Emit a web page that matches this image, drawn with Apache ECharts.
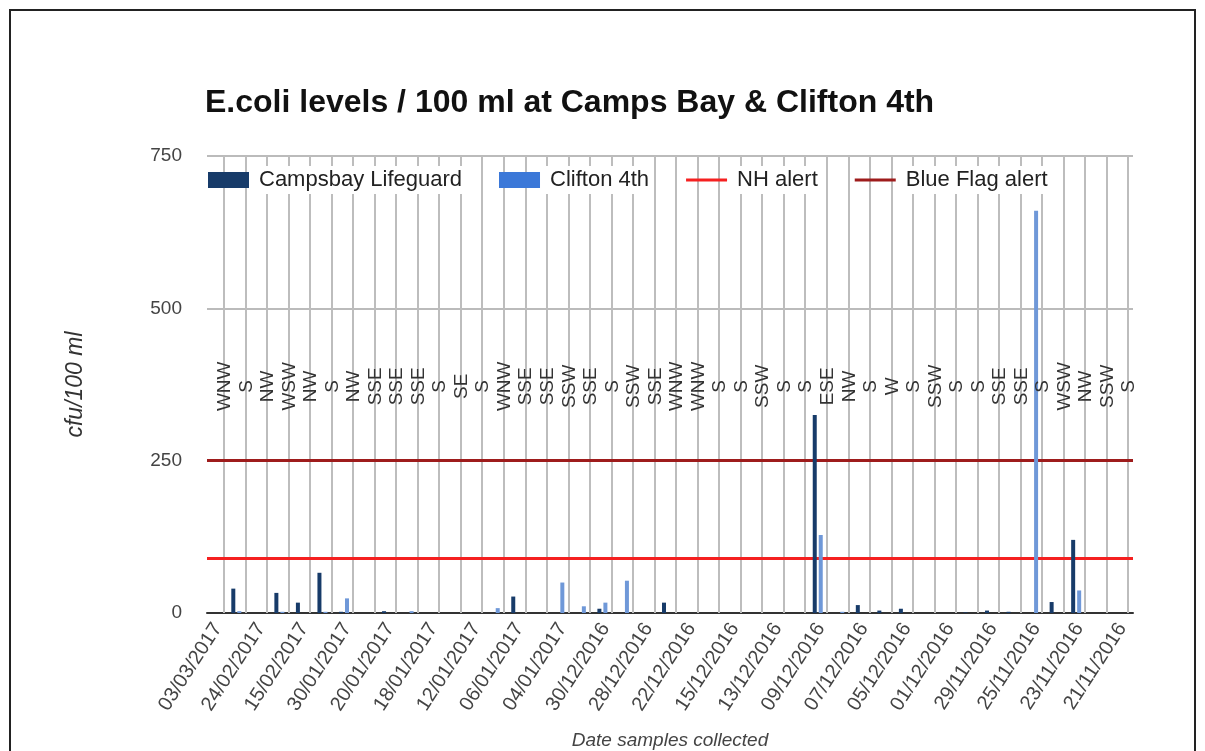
<!DOCTYPE html>
<html>
<head>
<meta charset="utf-8">
<script src="https://cdn.jsdelivr.net/npm/echarts@6/dist/echarts.min.js"></script>
<style>
  html, body { margin: 0; padding: 0; background: #fff; }
  #chart { width: 1205px; height: 751px; }
</style>
</head>
<body>
<div id="chart"></div>
<script>
// shown date labels (every other sample, newest first)
const dateLabels = ['03/03/2017', '24/02/2017', '15/02/2017', '30/01/2017', '20/01/2017', '18/01/2017',
  '12/01/2017', '06/01/2017', '04/01/2017', '30/12/2016', '28/12/2016', '22/12/2016', '15/12/2016',
  '13/12/2016', '09/12/2016', '07/12/2016', '05/12/2016', '01/12/2016', '29/11/2016', '25/11/2016',
  '23/11/2016', '21/11/2016'];

const windDirs = ['WNW', 'S', 'NW', 'WSW', 'NW', 'S', 'NW', 'SSE', 'SSE', 'SSE', 'S', 'SE', 'S', 'WNW',
  'SSE', 'SSE', 'SSW', 'SSE', 'S', 'SSW', 'SSE', 'WNW', 'WNW', 'S', 'S', 'SSW', 'S', 'S', 'ESE', 'NW',
  'S', 'W', 'S', 'SSW', 'S', 'S', 'SSE', 'SSE', 'S', 'WSW', 'NW', 'SSW', 'S'];

const campsBay = [0, 40, 0, 33, 17, 66, 2, 0, 3, 0, 0, 0, 0, 0, 27, 0, 0, 0, 7, 0, 0, 17, 0, 0, 0, 0,
  0, 0, 325, 0, 13, 4, 7, 0, 0, 1, 4, 2, 0, 18, 120, 0, 0];
const clifton = [0, 3, 0, 2, 0, 2, 24, 0, 0, 3, 0, 0, 0, 8, 0, 0, 50, 11, 17, 53, 0, 0, 0, 0, 0, 0,
  0, 0, 128, 2, 0, 0, 0, 0, 0, 0, 0, 0, 660, 0, 37, 0, 0];

const nhAlert = 90;
const blueFlagAlert = 250;
const windLevel = 372;
const yTicks = [0, 250, 500, 750];

// odd samples carry no visible label
const categories = windDirs.map(function (d, i) {
  return i % 2 === 0 ? dateLabels[i / 2] : '';
});

const chart = echarts.init(document.getElementById('chart'));
const font = 'Arial, "Liberation Sans", sans-serif';
const lineIcon = 'path://M0,0H40V3H0Z';

chart.setOption({
  backgroundColor: '#fff',
  animation: false,
  title: {
    text: 'E.coli levels / 100 ml at Camps Bay & Clifton 4th',
    left: 200,
    top: 82,
    textStyle: { fontFamily: font, fontSize: 32, fontWeight: 'bold', color: '#111' }
  },
  legend: {
    left: 203,
    top: 161,
    itemWidth: 41,
    itemHeight: 16,
    itemGap: 33,
    textStyle: {
      fontFamily: font, fontSize: 22, color: '#222',
      backgroundColor: '#fff', padding: [3, 4, 3, 5]
    },
    data: [
      { name: 'Campsbay Lifeguard', icon: 'rect' },
      { name: 'Clifton 4th', icon: 'rect', itemStyle: { color: '#3b78d8' } },
      { name: 'NH alert', icon: lineIcon },
      { name: 'Blue Flag alert', icon: lineIcon }
    ]
  },
  grid: { left: 207, right: 72, top: 156, bottom: 138, containLabel: false, outerBoundsMode: 'none' },
  xAxis: {
    type: 'category',
    data: categories,
    name: 'Date samples collected',
    nameLocation: 'middle',
    nameGap: 118,
    nameTextStyle: { fontFamily: font, fontSize: 19, fontStyle: 'italic', color: '#444' },
    axisLine: { lineStyle: { color: '#333', width: 2 } },
    axisTick: { show: false },
    axisLabel: {
      interval: 1,
      rotate: 57,
      margin: 12,
      fontFamily: font, fontSize: 20, color: '#444'
    },
    splitLine: { show: false }
  },
  yAxis: {
    type: 'value',
    min: yTicks[0],
    max: yTicks[yTicks.length - 1],
    interval: 250,
    name: 'cfu/100 ml',
    nameLocation: 'middle',
    nameRotate: 90,
    nameGap: 120,
    nameTextStyle: { fontFamily: font, fontSize: 23, fontStyle: 'italic', color: '#333' },
    axisLine: { show: false },
    axisTick: { show: false },
    axisLabel: { margin: 25, fontFamily: font, fontSize: 19, color: '#444' },
    splitLine: { lineStyle: { color: '#bbb', width: 2 } }
  },
  series: [
    {
      name: 'Campsbay Lifeguard',
      type: 'bar',
      barWidth: 4,
      barGap: '50%',
      itemStyle: { color: '#173b69' },
      z: 3,
      data: campsBay
    },
    {
      name: 'Clifton 4th',
      type: 'bar',
      barWidth: 4,
      barGap: '50%',
      itemStyle: { color: '#6f98d8' },
      z: 3,
      data: clifton
    },
    {
      // empty slot that the wind annotations belong to; also carries the vertical gridlines
      name: 'wind',
      type: 'bar',
      barWidth: 4,
      barGap: '50%',
      data: windDirs.map(function () { return '-'; }),
      markLine: {
        silent: true,
        symbol: 'none',
        z: 1,
        label: { show: false },
        lineStyle: { color: '#bdbdbd', width: 2, type: 'solid' },
        data: windDirs.map(function (d, i) { return { xAxis: i }; })
      }
    },
    {
      name: 'wind labels',
      type: 'custom',
      z: 4,
      silent: true,
      data: windDirs.map(function (d, i) { return [i, windLevel]; }),
      renderItem: function (params, api) {
        const p = api.coord([api.value(0), api.value(1)]);
        return {
          type: 'text',
          x: p[0] + 7,
          y: p[1],
          rotation: Math.PI / 2,
          style: {
            text: windDirs[params.dataIndex],
            font: '19px ' + font,
            fill: '#333',
            align: 'center',
            verticalAlign: 'middle'
          }
        };
      }
    },
    {
      name: 'NH alert',
      type: 'line',
      symbol: 'none',
      color: '#f52020',
      lineStyle: { color: '#f52020', width: 3 },
      data: [],
      markLine: {
        silent: true,
        symbol: 'none',
        z: 2,
        label: { show: false },
        lineStyle: { color: '#f52020', width: 3, type: 'solid' },
        data: [{ yAxis: nhAlert }]
      }
    },
    {
      name: 'Blue Flag alert',
      type: 'line',
      symbol: 'none',
      color: '#9e1c1c',
      lineStyle: { color: '#9e1c1c', width: 3 },
      data: [],
      markLine: {
        silent: true,
        symbol: 'none',
        z: 2,
        label: { show: false },
        lineStyle: { color: '#9e1c1c', width: 3, type: 'solid' },
        data: [{ yAxis: blueFlagAlert }]
      }
    }
  ],
  graphic: [{
    type: 'rect',
    silent: true,
    z: 100,
    shape: { x: 10, y: 10, width: 1185, height: 770 },
    style: { fill: 'none', stroke: '#222', lineWidth: 2 }
  }]
});
</script>
</body>
</html>
